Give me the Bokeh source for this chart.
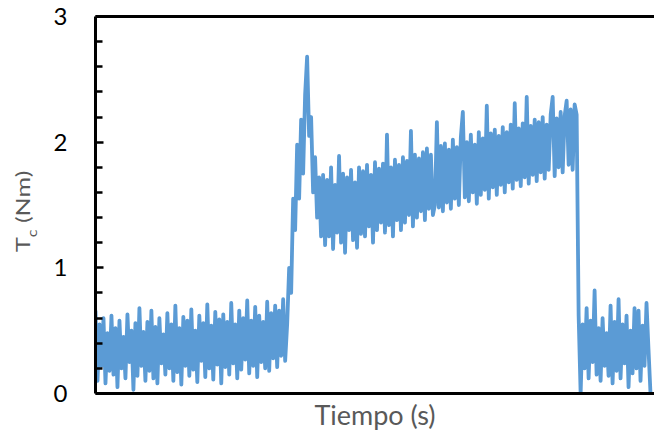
from bokeh.plotting import figure
from bokeh.models import LinearAxis, FixedTicker, Range1d, Div
from bokeh.layouts import row
from bokeh.embed import file_html
from bokeh.resources import INLINE

# ---- data ----
base_phase = [
    0.66, 0.10, 0.55, 0.22, 0.60, 0.08, 0.48, 0.18, 0.62, 0.15,
    0.52, 0.05, 0.58, 0.20, 0.45, 0.12, 0.63, 0.25, 0.50, 0.03,
    0.56, 0.14, 0.68, 0.22, 0.49, 0.10, 0.57, 0.18, 0.66, 0.12,
    0.53, 0.08, 0.60, 0.24, 0.47, 0.15, 0.64, 0.20, 0.55, 0.10,
    0.70, 0.17, 0.52, 0.07, 0.61, 0.22, 0.58, 0.14, 0.67, 0.19,
    0.50, 0.09, 0.62, 0.26, 0.56, 0.13, 0.71, 0.20, 0.54, 0.11,
    0.65, 0.23, 0.59, 0.08, 0.63, 0.21, 0.57, 0.15, 0.72, 0.24,
    0.55, 0.12, 0.66, 0.19, 0.60, 0.27, 0.74, 0.16, 0.58, 0.22,
    0.69, 0.13, 0.62, 0.25, 0.57, 0.20, 0.73, 0.18, 0.64, 0.28,
    0.70, 0.21, 0.66, 0.30, 0.75, 0.26,
]
rise_phase = [
    0.55, 1.00, 0.80, 1.55, 1.30, 1.98, 1.55, 2.18, 1.75, 2.38,
    2.68, 2.05, 2.20, 1.60, 1.88, 1.40, 1.72, 1.25,
]
ramp_phase = [
    1.74, 1.18, 1.70, 1.25, 1.80, 1.15, 1.66, 1.28, 1.89, 1.20,
    1.75, 1.12, 1.72, 1.30, 1.78, 1.22, 1.68, 1.16, 1.80, 1.27,
    1.77, 1.25, 1.82, 1.33, 1.74, 1.20, 1.84, 1.30, 1.79, 1.36,
    1.83, 1.28, 2.06, 1.34, 1.80, 1.25, 1.86, 1.38, 1.82, 1.30,
    1.88, 1.36, 1.85, 1.42, 2.09, 1.33, 1.90, 1.40, 1.87, 1.45,
    1.92, 1.38, 1.95, 1.47, 1.90, 1.42, 1.50, 2.16, 1.48, 1.97,
    1.45, 1.99, 1.52, 1.94, 1.47, 2.02, 1.55, 1.96, 1.50, 2.04,
    2.24, 1.56, 2.00, 1.53, 2.06, 1.60, 1.98, 1.51, 2.08, 1.58,
    2.03, 1.62, 2.29, 1.55, 2.07, 1.64, 2.10, 1.58, 2.05, 1.66,
    2.12, 1.60, 2.08, 1.68, 2.14, 1.63, 2.31, 1.70, 2.11, 1.65,
    2.15, 1.72, 2.36, 1.67, 2.13, 1.74, 2.18, 1.69, 2.16, 1.76,
    2.20, 1.71, 2.14, 1.78, 2.22, 2.36, 1.73, 2.19, 1.80, 2.24,
    1.76, 2.21, 2.33, 1.82, 2.26, 1.78, 2.30, 2.22,
]
tail_phase = [
    0.62, 0.00, 0.55, 0.20, 0.68, 0.12, 0.58, 0.25, 0.82, 0.15,
    0.52, 0.10, 0.60, 0.22, 0.48, 0.14, 0.70, 0.08, 0.57, 0.18,
    0.75, 0.12, 0.55, 0.24, 0.62, 0.05, 0.50, 0.16, 0.68, 0.20,
    0.66, 0.10, 0.54, 0.22, 0.72, 0.35, 0.00,
]
y_ticks = [0, 1, 2, 3]
y_minor = [0.2, 0.4, 0.6, 0.8, 1.2, 1.4, 1.6, 1.8, 2.2, 2.4, 2.6, 2.8]
x_title = "Tiempo (s)"
y_title_main = "T"
y_title_sub = "c"
y_title_unit = " (Nm)"

torque = base_phase + rise_phase + ramp_phase + tail_phase
sample = list(range(len(torque)))

FONT = "Lato"
GREY = "#595959"

p = figure(width=614, height=437, output_backend="svg", toolbar_location=None,
           x_range=Range1d(0, len(torque) + 1), y_range=Range1d(0, 3),
           min_border_left=55, min_border_right=0, min_border_top=16,
           min_border_bottom=44, margin=0)
p.outline_line_color = None
p.xgrid.visible = False
p.ygrid.visible = False
p.background_fill_color = "white"
p.border_fill_color = "white"

p.line(sample, torque, line_color="#5B9BD5", line_width=3.8, line_join="round")

# y axis
ya = p.yaxis[0]
ya.ticker = FixedTicker(ticks=y_ticks, minor_ticks=y_minor)
ya.axis_line_color = "black"
ya.axis_line_width = 3
ya.major_tick_in = 8
ya.major_tick_out = 0
ya.minor_tick_in = 7
ya.minor_tick_out = 0
ya.major_tick_line_width = 2.5
ya.minor_tick_line_width = 2.5
ya.major_tick_line_color = "black"
ya.minor_tick_line_color = "black"
ya.major_label_text_font = FONT
ya.major_label_text_font_size = "24px"
ya.major_label_text_color = "black"
ya.major_label_standoff = 28

# x axis
xa = p.xaxis[0]
xa.ticker = FixedTicker(ticks=[])
xa.axis_line_color = "black"
xa.axis_line_width = 3
xa.major_tick_in = 0
xa.major_tick_out = 0
xa.minor_tick_in = 0
xa.minor_tick_out = 0
xa.major_label_standoff = 0
xa.axis_label = x_title
xa.axis_label_text_font = FONT
xa.axis_label_text_font_size = "27px"
xa.axis_label_text_font_style = "normal"
xa.axis_label_text_color = GREY
xa.axis_label_standoff = 4

# top border line
top = LinearAxis(ticker=FixedTicker(ticks=[]), axis_line_color="black", axis_line_width=3,
                 major_tick_in=0, major_tick_out=0, minor_tick_in=0, minor_tick_out=0,
                 major_label_standoff=0, axis_label_standoff=0)
p.add_layout(top, "above")

# y axis title T_c (Nm), rotated, as HTML text
ytitle_html = (
    '<div style="width:437px;height:40px;transform-origin:0 0;'
    'transform:translate(0px,437px) rotate(-90deg);white-space:nowrap;'
    f'font-family:{FONT};font-size:20px;line-height:20px;color:{GREY};">'
    '<div style="display:inline-block;position:relative;left:185px;top:12px;'
    'transform-origin:0 0;transform:scaleX(1.25);">'
    f'{y_title_main}<span style="font-size:13px;position:relative;top:7px;">{y_title_sub}</span>'
    f'{y_title_unit.replace(" ", "&nbsp;")}</div></div>'
)
ydiv = Div(text=ytitle_html, width=40, height=437, margin=0,
           styles={"overflow": "visible"})

layout = row(ydiv, p, spacing=0)
open("out.html", "w").write(file_html(layout, INLINE))
